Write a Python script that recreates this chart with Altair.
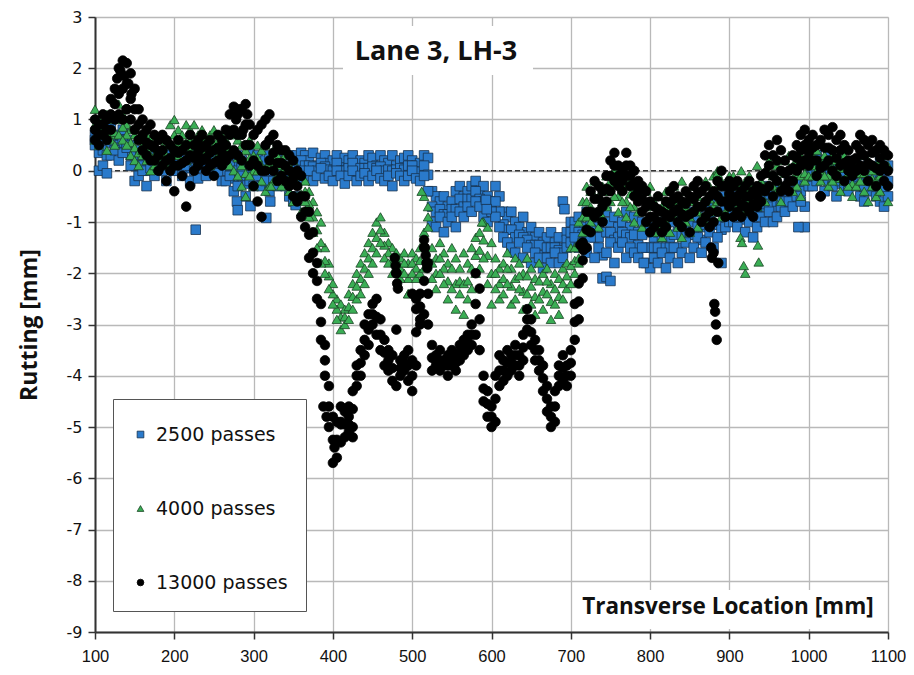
import altair as alt
import pandas as pd

# ---------------- data ----------------
SERIES = ["2500 passes", "4000 passes", "13000 passes"]

LOC = [100, 105, 110, 115, 120, 125, 130, 135, 140, 145, 150, 155, 160, 165, 170, 175, 180, 185, 190, 195,
       200, 205, 210, 215, 220, 225, 230, 235, 240, 245, 250, 255, 260, 265, 270, 275, 280, 285, 290, 295,
       300, 305, 310, 315, 320, 325, 330, 335, 340, 345, 350, 355, 360, 365, 370, 375, 380, 385, 390, 395,
       400, 405, 410, 415, 420, 425, 430, 435, 440, 445, 450, 455, 460, 465, 470, 475, 480, 485, 490, 495,
       500, 505, 510, 515, 520, 525, 530, 535, 540, 545, 550, 555, 560, 565, 570, 575, 580, 585, 590, 595,
       600, 605, 610, 615, 620, 625, 630, 635, 640, 645, 650, 655, 660, 665, 670, 675, 680, 685, 690, 695,
       700, 705, 710, 715, 720, 725, 730, 735, 740, 745, 750, 755, 760, 765, 770, 775, 780, 785, 790, 795,
       800, 805, 810, 815, 820, 825, 830, 835, 840, 845, 850, 855, 860, 865, 870, 875, 880, 885, 890, 895,
       900, 905, 910, 915, 920, 925, 930, 935, 940, 945, 950, 955, 960, 965, 970, 975, 980, 985, 990, 995,
       1000, 1005, 1010, 1015, 1020, 1025, 1030, 1035, 1040, 1045, 1050, 1055, 1060, 1065, 1070, 1075, 1080, 1085, 1090, 1095,
       1100]

# 2500 passes (blue squares), three measured profiles
BLUE_A = ([0.7, 0.8, 0.6, 0.75, 0.9, 0.65, 0.7, 0.8, 0.6]
          + [0.5, 0.4, 0.3, 0.2, 0.35, 0.4, 0.3, 0.25, 0.3, 0.4, 0.3, 0.2]
          + [0.3, 0.4, 0.2, 0.3, 0.5, 0.35, 0.4, 0.3, 0.2, 0.4, 0.3, 0.35]
          + [0.2, 0.3, 0.1, 0.3, 0.2, 0.0, 0.4, 0.2, 0.3, 0.1, 0.2, 0.3]
          + [0.2, 0.3, 0.1, 0.0, 0.3, 0.2, 0.3, 0.35]
          + [0.3, 0.2, 0.35, 0.1, 0.25, 0.3, 0.15, 0.2, 0.3, 0.1, 0.25, 0.2, 0.3, 0.1, 0.2, 0.15,
             0.3, 0.25, 0.1, 0.3, 0.2, 0.15, 0.3, 0.1, 0.2, 0.25, 0.3, 0.2, 0.1, 0.15, 0.3, 0.25]
          + [-0.4, -0.5, -0.6, -0.5, -0.7, -0.6, -0.4, -0.3, -0.5, -0.4, -0.3, -0.2, -0.4, -0.3, -0.5, -0.6]
          + [-0.3, -0.5, -0.8, -0.9, -0.8, -1.0, -1.1, -0.9, -1.2, -1.1, -1.3, -1.2, -1.4, -1.3, -1.2, -1.4, -1.3, -1.5, -1.2, -1.0]
          + [-1.0, -0.9, -1.1, -0.8, -1.0, -0.9, -1.1, -1.2, -0.8, -1.0, -0.9, -1.1, -1.0, -0.8, -1.1, -0.9, -1.2, -1.0]
          + [-1.2, -1.1, -1.3, -1.2, -1.0, -1.1, -1.3, -1.0, -1.2, -0.9, -1.1, -0.8, -1.0, -0.9, -1.1, -0.7, -0.9, -0.6, -0.8, -0.5, -0.7, -0.4]
          + [-0.5, -0.6, -0.4, -0.7, -0.5, -0.6, -0.4, -0.5, -0.3, -0.5, -0.4, -0.3, -0.5, -0.4, -0.2, -0.3, -0.4, -0.2, -0.3, 0.1]
          + [0.2, 0.3, 0.1, 0.2, 0.3, 0.1, 0.0, 0.2, 0.1, 0.0, 0.1, 0.2, 0.0, -0.1, 0.1, 0.0, -0.1, 0.2, 0.0, 0.1])
BLUE_B = ([0.5, 0.0, 0.1, -0.05, 0.3, 0.4, 0.2, 0.35, 0.45]
          + [0.1, -0.2, -0.1, 0.0, -0.3, 0.05, -0.1, 0.1, 0.0, -0.2, 0.1, 0.0]
          + [0.0, -0.1, 0.1, -0.2, 0.0, -0.15, 0.05, -0.1, 0.0, 0.1, -0.05, -0.2]
          + [-0.2, -0.1, -0.4, -0.3, -0.1, -0.5, -0.2, -0.3, -0.1, -0.3, -0.2, -0.4]
          + [-0.2, -0.3, -0.1, -0.3, -0.5, -0.6, -0.2, 0.0]
          + [-0.1, 0.0, -0.2, -0.1, 0.05, -0.15, -0.1, -0.2, 0.0, -0.1, -0.25, -0.1, 0.0, -0.2, -0.1, -0.05,
             -0.2, -0.1, 0.0, -0.15, -0.2, -0.1, -0.3, -0.05, -0.1, -0.2, -0.1, 0.0, -0.15, -0.2, -0.1, -0.4]
          + [-1.0, -1.1, -0.9, -1.2, -1.0, -0.9, -1.1, -0.8, -0.9, -0.7, -0.8, -0.6, -0.7, -0.9, -1.0, -0.8]
          + [-0.9, -1.1, -1.3, -1.4, -1.5, -1.6, -1.4, -1.7, -1.5, -1.8, -1.6, -1.7, -1.9, -1.7, -1.8, -1.6, -1.8, -1.7, -1.5, -1.4]
          + [-1.3, -1.5, -1.4, -1.6, -1.3, -1.7, -1.5, -2.1, -1.6, -1.4, -1.8, -1.5, -1.4, -1.7, -1.5, -1.6, -1.7, -1.5]
          + [-1.8, -1.9, -1.7, -1.8, -1.6, -1.9, -1.7, -1.5, -1.8, -1.6, -1.4, -1.7, -1.5, -1.3, -1.6, -1.4, -1.2, -1.5, -1.3, -1.8, -1.1, -1.0]
          + [-1.0, -1.1, -0.9, -1.2, -1.0, -1.3, -1.1, -0.9, -1.0, -0.8, -1.0, -0.9, -0.7, -0.8, -0.6, -0.7, -0.5, -0.6, -1.1, -0.3]
          + [-0.3, -0.2, -0.1, -0.4, -0.2, -0.3, -0.5, -0.2, -0.3, -0.4, -0.2, -0.3, -0.5, -0.6, -0.4, -0.3, -0.5, -0.6, -0.7, -0.5])
BLUE_C = ([0.6, 0.35, 0.4, 0.3, 0.55, 0.5, 0.45, 0.55, 0.5]
          + [0.3, 0.1, 0.1, 0.1, 0.0, 0.2, 0.1, 0.15, 0.15, 0.1, 0.2, 0.1]
          + [0.15, 0.15, 0.15, 0.05, 0.25, 0.1, 0.2, 0.1, 0.1, 0.25, 0.1, 0.05]
          + [0.0, 0.1, -0.15, 0.0, 0.05, -0.25, 0.1, -0.05, 0.1, -0.1, 0.0, -0.05]
          + [0.0, 0.0, 0.0, -0.15, -0.1, -0.2, 0.05, 0.2]
          + [0.1, 0.1, 0.08, 0.0, 0.15, 0.08, 0.02, 0.0, 0.15, 0.0, 0.0, 0.05, 0.15, -0.05, 0.05, 0.05,
             0.05, 0.08, 0.05, 0.08, 0.0, 0.02, 0.0, 0.02, 0.05, 0.02, 0.1, 0.1, -0.02, -0.02, 0.1, -0.08]
          + [-0.7, -0.8, -0.75, -0.85, -0.85, -0.75, -0.75, -0.55, -0.7, -0.55, -0.55, -0.4, -0.55, -0.6, -0.75, -0.7]
          + [-0.6, -0.8, -1.05, -1.15, -1.15, -1.3, -1.25, -1.3, -1.35, -1.45, -1.45, -1.45, -1.65, -1.5, -1.5, -1.5, -1.55, -1.6, -1.35, -1.2]
          + [-1.15, -1.2, -1.25, -1.2, -1.15, -1.3, -1.3, -1.65, -1.2, -1.2, -1.35, -1.3, -1.2, -1.25, -1.3, -1.25, -1.45, -1.25]
          + [-1.5, -1.5, -1.5, -1.5, -1.3, -1.5, -1.5, -1.25, -1.5, -1.25, -1.25, -1.25, -1.25, -1.1, -1.35, -1.05, -1.05, -1.05, -1.05, -1.15, -0.9, -0.7]
          + [-0.75, -0.85, -0.65, -0.95, -0.75, -0.95, -0.75, -0.7, -0.65, -0.65, -0.7, -0.6, -0.6, -0.6, -0.4, -0.5, -0.45, -0.4, -0.7, -0.1]
          + [-0.05, 0.05, 0.0, -0.1, 0.05, -0.1, -0.25, 0.0, -0.1, -0.2, -0.05, -0.05, -0.25, -0.35, -0.15, -0.15, -0.3, -0.2, -0.35, -0.2])
BLUE_EXTRA_X = [227, 279, 280, 296, 316, 321, 353, 355, 593, 594, 690, 692, 745, 750, 792, 987, 1070]
BLUE_EXTRA_Y = [-1.15, -0.6, -0.77, -0.69, -0.92, -0.6, -0.67, -0.5, -0.57, -0.75, -0.6, -0.75, -2.07, -2.15, -1.8, -1.1, -0.3]

# 4000 passes (green triangles)
GREEN_A = ([1.2, 1.0, 0.9, 1.1, 0.8, 1.0, 1.3, 1.1, 0.9]
           + [0.8, 0.7, 0.6, 0.5, 0.7, 0.6, 0.5, 0.4, 0.6, 0.5, 0.9, 1.0]
           + [0.8, 0.7, 0.9, 0.8, 0.9, 0.7, 0.8, 0.6, 0.7, 0.8, 0.6, 0.7]
           + [0.6, 0.8, 0.7, 0.6, 0.5, 0.4, 0.6, 0.3, 0.5, 0.4, 0.5, 0.6]
           + [0.4, 0.3, 0.2, 0.3, 0.1, 0.2, 0.0, -0.1]
           + [-0.2, -0.4, -0.6, -0.8, -1.0, -1.5, -1.8, -2.2, -2.5, -2.6, -2.7, -2.4, -2.2, -2.0, -1.8, -1.6,
              -1.4, -1.2, -1.0, -0.9, -1.2, -1.4, -1.5, -1.6, -1.7, -1.6, -1.8, -1.6, -1.7, -1.5, -0.5, -0.7]
           + [-1.5, -1.7, -1.4, -1.6, -1.8, -1.5, -1.7, -1.9, -1.6, -1.8, -1.5, -1.3, -1.2, -1.0, -1.1, -1.4]
           + [-1.7, -1.9, -1.8, -1.6, -1.9, -1.7, -1.8, -2.0, -1.7, -1.9, -2.1, -1.8, -2.0, -1.9, -2.2, -2.0, -2.1, -1.9, -1.8, -1.5]
           + [-1.5, -1.0, -0.6, -0.3, -0.4, -0.2, -0.5, -0.3, -0.1, -0.2, 0.0, -0.2, -0.1, -0.3, -0.2, -0.4, -0.3, -0.5]
           + [-0.4, -0.3, -0.6, -0.5, -0.7, -0.4, -0.6, -0.3, -0.5, -0.2, -0.4, -0.6, -0.3, -0.5, -0.4, -0.2, -0.3, -0.1, 0.0, -0.2, -0.3, -0.1]
           + [-0.1, -0.3, 0.0, -0.2, -0.1, -0.3, 0.1, -0.2, 0.0, 0.2, -0.1, 0.1, 0.0, 0.2, 0.3, 0.1, 0.2, 0.3, 0.1, 0.35]
           + [0.3, 0.4, 0.2, 0.3, 0.1, 0.3, 0.2, 0.1, 0.3, 0.2, 0.0, 0.2, 0.1, 0.3, 0.2, 0.0, 0.1, 0.2, 0.3, 0.1])
GREEN_B = ([0.6, 0.5, 0.7, 0.4, 0.6, 0.5, 0.7, 0.6, 0.5]
           + [0.3, 0.2, 0.1, 0.3, 0.2, 0.0, 0.1, 0.2, 0.3, 0.1, 0.2, 0.4]
           + [0.3, 0.4, 0.2, 0.4, 0.3, 0.2, 0.4, 0.3, 0.1, 0.2, 0.3, 0.2]
           + [0.2, 0.1, 0.0, -0.1, -0.3, -0.5, -0.1, -0.3, 0.0, -0.2, -0.4, -0.3]
           + [-0.2, -0.1, -0.3, -0.2, -0.4, -0.6, -0.5, -0.8]
           + [-0.6, -0.9, -1.2, -1.5, -1.8, -2.0, -2.3, -2.6, -2.9, -3.1, -3.0, -2.9, -2.7, -2.5, -2.4, -2.2,
              -2.0, -1.8, -1.6, -1.4, -1.7, -1.8, -2.0, -1.9, -2.1, -2.0, -2.4, -2.0, -2.1, -2.0, -1.9, -1.1]
           + [-2.1, -2.3, -2.0, -2.2, -2.5, -2.3, -2.7, -2.4, -2.8, -2.5, -2.3, -2.0, -1.9, -1.7, -2.2, -2.6]
           + [-2.3, -2.5, -2.4, -2.2, -2.6, -2.5, -2.3, -2.7, -2.4, -2.6, -2.8, -2.5, -2.7, -2.4, -2.9, -2.6, -2.8, -2.5, -2.3, -2.2]
           + [-2.0, -1.8, -1.2, -0.9, -1.0, -0.8, -1.1, -0.9, -0.7, -0.6, -0.5, -0.8, -0.6, -0.9, -0.7, -1.0, -0.8, -1.1]
           + [-1.0, -0.9, -1.2, -1.1, -1.3, -1.0, -1.2, -0.9, -1.1, -1.3, -1.0, -1.2, -0.8, -1.1, -0.9, -1.0, -0.8, -0.7, -0.6, -0.9, -0.8, -0.7]
           + [-0.5, -0.7, -0.6, -0.8, -0.6, -0.5, -0.7, -0.4, -0.6, -0.3, -0.5, -0.4, -0.6, -0.3, -0.2, -0.4, -0.3, -0.5, -0.2, -0.1]
           + [-0.1, 0.0, -0.2, -0.1, -0.3, -0.2, -0.1, -0.4, -0.2, -0.3, -0.5, -0.3, -0.2, -0.4, -0.6, -0.3, -0.5, -0.4, -0.2, -0.6])
GREEN_C = ([0.9, 0.75, 0.8, 0.75, 0.7, 0.75, 1.0, 0.85, 0.7]
           + [0.55, 0.45, 0.35, 0.4, 0.45, 0.3, 0.3, 0.3, 0.45, 0.3, 0.55, 0.7]
           + [0.55, 0.55, 0.55, 0.6, 0.6, 0.45, 0.6, 0.45, 0.4, 0.5, 0.45, 0.45]
           + [0.4, 0.45, 0.35, 0.25, 0.1, -0.05, 0.25, 0.0, 0.25, 0.1, 0.05, 0.15]
           + [0.1, 0.1, -0.05, 0.05, -0.15, -0.2, -0.25, -0.45]
           + [-0.4, -0.65, -0.9, -1.15, -1.4, -1.75, -2.05, -2.4, -2.7, -2.85, -2.85, -2.65, -2.45, -2.25, -2.1, -1.9,
              -1.7, -1.5, -1.3, -1.15, -1.45, -1.6, -1.75, -1.75, -1.9, -1.8, -2.1, -1.8, -1.9, -1.75, -1.2, -0.9]
           + [-1.8, -2.0, -1.7, -1.9, -2.15, -1.9, -2.2, -2.15, -2.2, -2.15, -1.9, -1.65, -1.55, -1.35, -1.65, -2.0]
           + [-2.0, -2.2, -2.1, -1.9, -2.25, -2.1, -2.05, -2.35, -2.05, -2.25, -2.45, -2.15, -2.35, -2.15, -2.55, -2.3, -2.45, -2.2, -2.05, -1.85]
           + [-1.75, -1.4, -0.9, -0.6, -0.7, -0.5, -0.8, -0.6, -0.4, -0.4, -0.25, -0.5, -0.35, -0.6, -0.45, -0.7, -0.55, -0.8]
           + [-0.7, -0.6, -0.9, -0.8, -1.0, -0.7, -0.9, -0.6, -0.8, -0.75, -0.7, -0.9, -0.55, -0.8, -0.65, -0.6, -0.55, -0.4, -0.3, -0.55, -0.55, -0.4]
           + [-0.3, -0.5, -0.3, -0.5, -0.35, -0.4, -0.3, -0.3, -0.3, -0.05, -0.3, -0.15, -0.3, -0.05, 0.05, -0.15, -0.05, -0.1, -0.05, 0.1]
           + [0.1, 0.2, 0.0, 0.1, -0.1, 0.05, 0.05, -0.15, 0.05, -0.05, -0.25, -0.05, -0.05, -0.05, -0.2, -0.15, -0.2, -0.1, 0.05, -0.25])
GREEN_EXTRA_X = [914, 916, 918, 920, 936, 937, 322, 495, 512, 588, 710, 885]
GREEN_EXTRA_Y = [-1.3, -1.4, -1.85, -2.0, -1.45, -1.78, -0.3, -2.4, -0.4, -1.0, -1.7, -0.05]

# 13000 passes (black circles), three profiles
BLACK_A = ([1.0, 0.9, 1.1, 1.0, 1.4, 1.6, 2.0, 2.15, 2.1]
           + [1.9, 1.6, 1.2, 1.0, 0.8, 0.9, 0.7, 0.6, 0.7, 0.6, 0.5, 0.4]
           + [0.6, 0.4, 0.5, 0.7, 0.5, 0.6, 0.7, 0.5, 0.6, 0.4, 0.7, 0.6]
           + [0.8, 1.1, 1.25, 1.1, 1.2, 1.3, 0.9, 0.7, 0.8, 0.9, 1.0, 1.1]
           + [0.7, 0.5, 0.4, 0.4, 0.3, 0.2, 0.0, -0.1]
           + [-0.5, -0.8, -1.2, -1.8, -2.6, -3.4, -4.2, -4.8, -4.9, -4.6, -4.7, -4.8, -4.3, -3.8, -3.5, -3.0,
              -2.8, -2.6, -2.5, -2.9, -3.3, -3.5, -3.6, -2.0, -3.7, -3.6, -3.5, -3.7, -2.5, -2.4, -1.5, -1.8]
           + [-3.4, -3.6, -3.5, -3.7, -3.6, -3.5, -3.6, -3.4, -3.3, -3.2, -3.0, -2.0, -2.3, -4.0, -4.3, -4.6]
           + [-4.0, -3.6, -3.7, -3.5, -3.6, -3.4, -3.6, -3.2, -2.7, -2.9, -3.3, -3.5, -3.8, -4.2, -4.6, -4.3, -3.8, -3.6, -3.8, -3.5]
           + [-2.6, -2.2, -1.4, -0.8, -0.4, -0.2, -0.3, -0.4, -0.1, 0.2, 0.35, 0.1, 0.0, 0.35, 0.1, 0.0, -0.2, -0.3]
           + [-0.4, -0.6, -0.7, -0.5, -0.8, -0.6, -0.4, -0.3, -0.5, -0.6, -0.4, -0.5, -0.3, -0.2, -0.4, -0.3, -0.5, -0.4, -0.2, 0.0, -0.3, -0.2]
           + [-0.3, -0.2, -0.4, -0.3, -0.2, -0.4, -0.3, -0.1, 0.3, 0.5, 0.3, 0.6, 0.4, 0.2, 0.0, 0.3, 0.5, 0.7, 0.8, 0.6]
           + [0.7, 0.5, 0.6, 0.8, 0.7, 0.85, 0.6, 0.7, 0.5, 0.4, 0.2, 0.5, 0.7, 0.6, 0.5, 0.6, 0.4, 0.5, 0.4, 0.3])
BLACK_B = ([0.6, 0.5, 0.7, 0.6, 0.8, 1.0, 1.1, 1.0, 1.2]
           + [1.0, 0.8, 0.6, 0.4, 0.3, 0.2, 0.2, 0.0, 0.1, -0.2, 0.0, -0.4]
           + [0.1, -0.1, -0.7, -0.3, 0.0, 0.1, 0.2, 0.0, 0.1, -0.1, 0.2, 0.1]
           + [0.2, 0.3, 0.4, 0.3, 0.2, 0.5, 0.1, -0.3, -0.6, -0.9, 0.0, 0.2]
           + [0.0, -0.2, -0.1, -0.2, -0.3, -0.5, -0.6, -0.9]
           + [-1.1, -1.7, -2.0, -2.5, -3.3, -4.0, -5.0, -5.7, -5.6, -5.3, -5.2, -5.1, -5.0, -4.2, -4.0, -3.6,
              -3.4, -3.0, -3.2, -3.5, -3.8, -3.9, -4.1, -4.2, -4.0, -3.9, -4.1, -4.3, -3.8, -2.9, -2.8, -3.0]
           + [-3.9, -3.8, -3.9, -3.8, -4.0, -3.8, -3.9, -3.7, -3.6, -3.5, -3.4, -3.2, -3.5, -4.5, -4.8, -5.0]
           + [-4.9, -4.2, -4.1, -4.0, -3.9, -3.8, -4.0, -3.7, -3.1, -3.4, -3.7, -3.9, -4.3, -4.7, -5.0, -4.9, -4.2, -4.1, -4.2, -4.0]
           + [-3.3, -2.9, -2.1, -1.5, -1.2, -0.9, -0.8, -1.0, -0.6, -0.4, -0.2, -0.3, -0.4, -0.1, -0.3, -0.5, -0.6, -0.8]
           + [-1.0, -1.2, -1.1, -1.0, -1.2, -1.1, -0.9, -0.8, -1.0, -1.1, -0.9, -1.2, -0.8, -0.7, -1.0, -0.9, -1.1, -1.6, -0.8, -0.6, -0.9, -0.7]
           + [-0.9, -0.8, -0.9, -0.7, -0.8, -0.9, -0.7, -0.6, -0.4, -0.3, -0.5, -0.2, -0.4, -0.3, -0.4, -0.2, 0.0, 0.1, 0.2, 0.1]
           + [0.2, -0.1, -0.5, 0.1, 0.2, 0.0, -0.1, 0.1, -0.2, 0.0, -0.1, 0.0, 0.1, 0.0, -0.2, 0.1, -0.3, 0.0, -0.2, -0.3])
BLACK_C = ([0.8, 0.7, 0.9, 0.8, 1.1, 1.3, 1.5, 1.6, 1.7]
           + [1.4, 1.2, 0.9, 0.7, 0.55, 0.5, 0.45, 0.3, 0.4, 0.2, 0.25, 0.1]
           + [0.35, 0.15, 0.2, 0.3, 0.25, 0.35, 0.45, 0.25, 0.35, 0.15, 0.45, 0.35]
           + [0.5, 0.7, 0.8, 0.7, 0.7, 0.9, 0.5, 0.2, 0.1, 0.0, 0.5, 0.6]
           + [0.35, 0.15, 0.15, 0.1, 0.0, -0.15, -0.3, -0.5]
           + [-0.8, -1.25, -1.6, -2.15, -2.95, -3.7, -4.6, -5.25, -5.25, -4.95, -4.95, -4.95, -4.65, -4.0, -3.75, -3.3,
              -3.1, -2.8, -2.85, -3.2, -3.55, -3.7, -3.85, -3.1, -3.85, -3.75, -3.8, -4.0, -3.15, -2.65, -2.15, -2.4]
           + [-3.65, -3.7, -3.7, -3.75, -3.8, -3.65, -3.75, -3.55, -3.45, -3.35, -3.2, -2.6, -2.9, -4.25, -4.55, -4.8]
           + [-4.45, -3.9, -3.9, -3.75, -3.75, -3.6, -3.8, -3.45, -2.9, -3.15, -3.5, -3.7, -4.05, -4.45, -4.8, -4.6, -4.0, -3.85, -4.0, -3.75]
           + [-2.95, -2.55, -1.75, -1.15, -0.8, -0.55, -0.55, -0.7, -0.35, -0.1, 0.1, -0.1, -0.2, 0.1, -0.1, -0.25, -0.4, -0.55]
           + [-0.7, -0.9, -0.9, -0.75, -1.0, -0.85, -0.65, -0.55, -0.75, -0.85, -0.65, -0.85, -0.55, -0.45, -0.7, -0.6, -0.8, -1.0, -0.5, -0.3, -0.6, -0.45]
           + [-0.6, -0.5, -0.65, -0.5, -0.5, -0.65, -0.5, -0.35, -0.05, 0.1, -0.1, 0.2, 0.0, -0.05, -0.2, 0.05, 0.25, 0.4, 0.5, 0.35]
           + [0.45, 0.2, 0.05, 0.45, 0.45, 0.4, 0.25, 0.4, 0.15, 0.2, 0.05, 0.25, 0.4, 0.3, 0.15, 0.35, 0.05, 0.25, 0.1, 0.0])
BLACK_EXTRA_X = [478, 479, 480, 481, 482, 515, 516, 517, 518, 519, 500, 505, 510, 877, 878, 886, 881, 882, 883, 884,
                 712, 716, 1015, 388, 392, 402, 410, 420, 425, 128, 132, 137, 142, 146, 140, 278, 282, 287, 292]
BLACK_EXTRA_Y = [-1.7, -1.85, -2.0, -2.2, -2.3, -1.35, -1.5, -1.65, -1.8, -1.9, -2.4, -2.7, -3.0, -1.5, -1.7, -1.8, -2.6, -2.75, -3.0, -3.3,
                 -1.45, -1.55, -0.5, -4.6, -4.8, -5.4, -4.9, -4.6, -5.2, 1.8, 1.95, 1.85, 1.7, 1.5, 1.2, 1.0, 1.2, 0.8, 1.1]

X_TICKS = [100, 200, 300, 400, 500, 600, 700, 800, 900, 1000, 1100]
Y_TICKS = [-9, -8, -7, -6, -5, -4, -3, -2, -1, 0, 1, 2, 3]

for lst in (BLUE_A, BLUE_B, BLUE_C, GREEN_A, GREEN_B, GREEN_C, BLACK_A, BLACK_B, BLACK_C):
    assert len(lst) == len(LOC), len(lst)

# ---------------- build table ----------------
rows = []
def add(name, xs, ys):
    for xv, yv in zip(xs, ys):
        rows.append({"x": xv, "y": yv, "series": name})

add(SERIES[0], LOC, BLUE_A)
add(SERIES[0], LOC, BLUE_C)
add(SERIES[0], LOC, BLUE_B)
add(SERIES[0], BLUE_EXTRA_X, BLUE_EXTRA_Y)
add(SERIES[1], LOC, GREEN_A)
add(SERIES[1], LOC, GREEN_C)
add(SERIES[1], LOC, GREEN_B)
add(SERIES[1], GREEN_EXTRA_X, GREEN_EXTRA_Y)
add(SERIES[2], LOC, BLACK_A)
add(SERIES[2], LOC, BLACK_B)
add(SERIES[2], LOC, BLACK_C)
add(SERIES[2], BLACK_EXTRA_X, BLACK_EXTRA_Y)
df = pd.DataFrame(rows)

FILL = ["#2a7acb", "#3aae55", "#000000"]
EDGE = ["#17324f", "#1b4424", "#000000"]
SHAPES = ["square", "triangle-up", "circle"]

legend = alt.Legend(
    title=" ", titleFontSize=8, titlePadding=0,
    orient="none", legendX=18, legendY=382,
    fillColor="white", strokeColor="#555555", padding=18, rowPadding=54,
    labelFont="DejaVu Sans", labelFontSize=19, labelColor="#111111", labelOffset=6,
    symbolSize=45, symbolStrokeWidth=0.8,
)

xscale = alt.Scale(domain=[100, 1100], nice=False, zero=False)
yscale = alt.Scale(domain=[-9, 3], nice=False, zero=False)

points = alt.Chart(df).mark_point(filled=True, size=92, strokeWidth=0.8, opacity=1).encode(
    x=alt.X("x:Q", scale=xscale, axis=alt.Axis(
        values=X_TICKS, title=None, grid=True, gridColor="#b9b9b9", gridWidth=1.3,
        domainColor="#333333", domainWidth=2, tickColor="#333333", tickWidth=1.5, tickSize=7,
        labelFont="Liberation Sans", labelFontSize=16.5, labelColor="#111111",
        labelPadding=9, labelFlush=False, labelExpr="'' + datum.value")),
    y=alt.Y("y:Q", scale=yscale, axis=alt.Axis(
        values=Y_TICKS, title="Rutting [mm]", grid=True, gridColor="#b9b9b9", gridWidth=1.3,
        domainColor="#333333", domainWidth=2, tickColor="#333333", tickWidth=1.5, tickSize=7,
        labelFont="DejaVu Sans", labelFontSize=16, labelColor="#111111", labelPadding=6,
        labelFlush=False, labelExpr="'' + datum.value",
        titleFont="Open Sans", titleFontSize=23, titleFontWeight="bold", titleColor="#111111",
        titlePadding=25)),
    shape=alt.Shape("series:N", scale=alt.Scale(domain=SERIES, range=SHAPES), legend=legend),
    color=alt.Color("series:N", scale=alt.Scale(domain=SERIES, range=FILL), legend=legend),
    stroke=alt.Stroke("series:N", scale=alt.Scale(domain=SERIES, range=EDGE), legend=legend),
)

zero = alt.Chart(pd.DataFrame({"y": [0]})).mark_rule(
    color="#333333", strokeWidth=1.5, strokeDash=[5, 3]).encode(y=alt.Y("y:Q", scale=yscale))

one = pd.DataFrame({"a": [0]})
title_box = alt.Chart(one).mark_rect(fill="white").encode(
    x=alt.value(248), x2=alt.value(438), y=alt.value(9), y2=alt.value(58))
title_txt = alt.Chart(one).mark_text(
    text="Lane 3, LH-3", font="Open Sans", fontSize=27, fontWeight="bold", color="#111111",
    align="center", baseline="middle").encode(x=alt.value(341), y=alt.value(35))
xt_box = alt.Chart(one).mark_rect(fill="white").encode(
    x=alt.value(482), x2=alt.value(792), y=alt.value(573), y2=alt.value(612))
xt_txt = alt.Chart(one).mark_text(
    text="Transverse Location [mm]", font="Open Sans", fontSize=22.5, fontWeight="bold", color="#111111",
    align="center", baseline="middle").encode(x=alt.value(633), y=alt.value(590))

chart = alt.layer(zero, points, title_box, title_txt, xt_box, xt_txt).properties(
    width=793, height=615,
    padding={"left": 87, "top": 9, "right": 18, "bottom": 35},
    autosize=alt.AutoSizeParams(type="none"),
).configure_view(stroke=None).configure(background="white")

chart.save("out.html", embed_options={"renderer": "svg", "actions": False})
